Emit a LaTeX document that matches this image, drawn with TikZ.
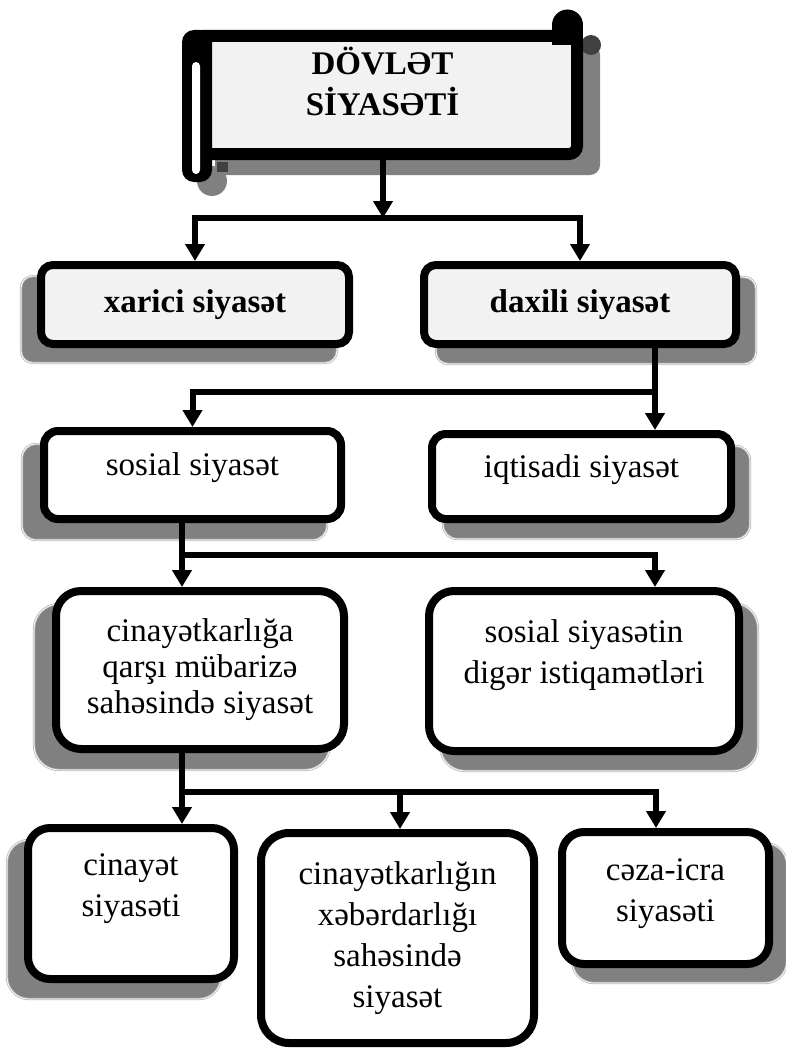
\documentclass[tikz,border=0pt]{standalone}
\usepackage{fontspec}
\setmainfont{Liberation Serif}
\usetikzlibrary{positioning,arrows.meta,backgrounds}
\definecolor{shadowgray}{HTML}{808080}
\definecolor{boxgray}{HTML}{F2F2F2}
\newcommand{\boxfont}{\fontsize{33}{41}\selectfont}
\tikzset{
  box/.style={draw, line width=8pt, fill=white, align=center, inner sep=0pt, font=\boxfont},
  greybox/.style={box, fill=boxgray, font=\boxfont\bfseries},
  boxtext/.style={align=center, inner sep=0pt, outer sep=0pt, font=\boxfont},
  shadowbox/.style={fill=shadowgray, draw=gray!55, double=white, double distance=0.7pt, line width=0.8pt},
  conn/.style={line width=6pt},
  arr/.style={line width=6pt, -{Triangle[width=19pt,length=17pt]}}
}

\begin{document}
\begin{tikzpicture}[x=1pt,y=-1pt]
\useasboundingbox (0,0) rectangle (785,1049);

%Scroll shadow
\fill[shadowgray, rounded corners=10] (215,45) rectangle (600,175);
\fill[shadowgray] (212,181) circle[radius=15];
\fill[gray!50!black] (591,45) circle[radius=10];
\fill[gray!50!black] (217,162) rectangle (228,172);

%Scroll - body, left roll, top curl
\node[draw, line width=12pt, fill=boxgray, rounded corners=8, minimum width=383pt, minimum height=118pt, inner sep=0pt] (dov) at (385.5,95) {};
\fill[rounded corners=12] (182,30) rectangle (212,182);
\fill[white, rounded corners=4] (192,62) rectangle (200,174);
\fill (567.5,25) circle[radius=15.5];
\fill (552,25) rectangle (583,45);
\node[boxtext, font=\boxfont\bfseries, below=17pt of dov.north, xshift=-3pt] (dovT) {DÖVLƏT\\SİYASƏTİ};

%Boxes
\node[greybox, rounded corners=12, minimum width=308pt, minimum height=79pt] (xar) at (195,304.5) {xarici siyasət};
\node[greybox, rounded corners=12, minimum width=312pt, minimum height=79pt] (dax) at (580,304.5) {daxili siyasət};
\node[box, rounded corners=14, minimum width=297pt, minimum height=88pt] (sos) at (192.5,475) {};
\node[box, rounded corners=14, minimum width=299pt, minimum height=85pt] (iqt) at (581.5,476.5) {};
\node[box, rounded corners=25, minimum width=288pt, minimum height=158pt, font=\fontsize{33}{36}\selectfont] (cin) at (200,670) {cinayətkarlığa\\qarşı mübarizə\\sahəsində siyasət};
\node[box, rounded corners=25, minimum width=310pt, minimum height=160pt] (dig) at (584,671) {};
\node[box, rounded corners=22, minimum width=206pt, minimum height=151pt] (cnt) at (131,903.5) {};
\node[box, rounded corners=28, minimum width=273pt, minimum height=210pt] (xeb) at (397.5,938) {cinayətkarlığın\\xəbərdarlığı\\sahəsində\\siyasət};
\node[box, rounded corners=22, minimum width=207pt, minimum height=132pt] (cez) at (665.5,898) {};

%Texts near the top of their boxes
\node[boxtext, below=26pt of sos.north] (sosT) {sosial siyasət};
\node[boxtext, below=25pt of iqt.north] (iqtT) {iqtisadi siyasət};
\node[boxtext, below=33pt of dig.north] (digT) {sosial siyasətin\\digər istiqamətləri};
\node[boxtext, below=30pt of cnt.north] (cntT) {cinayət\\siyasəti};
\node[boxtext, below=31pt of cez.north] (cezT) {cəza-icra\\siyasəti};

%Shadows
\begin{pgfonlayer}{background}
\foreach \n/\dx/\dy/\r in {xar/-16/15/12, dax/16/16/12, sos/-18/17/14, iqt/15/16/14, cin/-18/17/25, dig/15/16/25, cnt/-17/16/22, cez/14/15/22}
  \draw[shadowbox, rounded corners=\r] ([shift={(\dx,\dy)}]\n.north west) rectangle ([shift={(\dx,\dy)}]\n.south east);
\end{pgfonlayer}

%Connectors
\coordinate (j0) at (383,218);
\coordinate (j1) at (655,392);
\coordinate (j2) at (182,555);
\coordinate (j2r) at (655,555);
\coordinate (j3) at (182,792);
\coordinate (j3m) at (400,792);
\coordinate (j3r) at (656,792);
\draw[arr] (dov.south -| j0) -- (j0);
\draw[arr] (j0) -| (xar.north);
\draw[arr] (j0) -| (dax.north);
\draw[arr] (dax.south -| j1) -- (j1 |- iqt.north);
\draw[arr] (j1) -| (sos.north);
\draw[arr] (sos.south -| j2) -- (j2 |- cin.north);
\draw[arr] (j2) -- (j2r) -- (j2r |- dig.north);
\draw[arr] (cin.south -| j3) -- (j3 |- cnt.north);
\draw[arr] (j3) -- (j3r) -- (j3r |- cez.north);
\draw[arr] (j3m) -- (j3m |- xeb.north);

\end{tikzpicture}
\end{document}
